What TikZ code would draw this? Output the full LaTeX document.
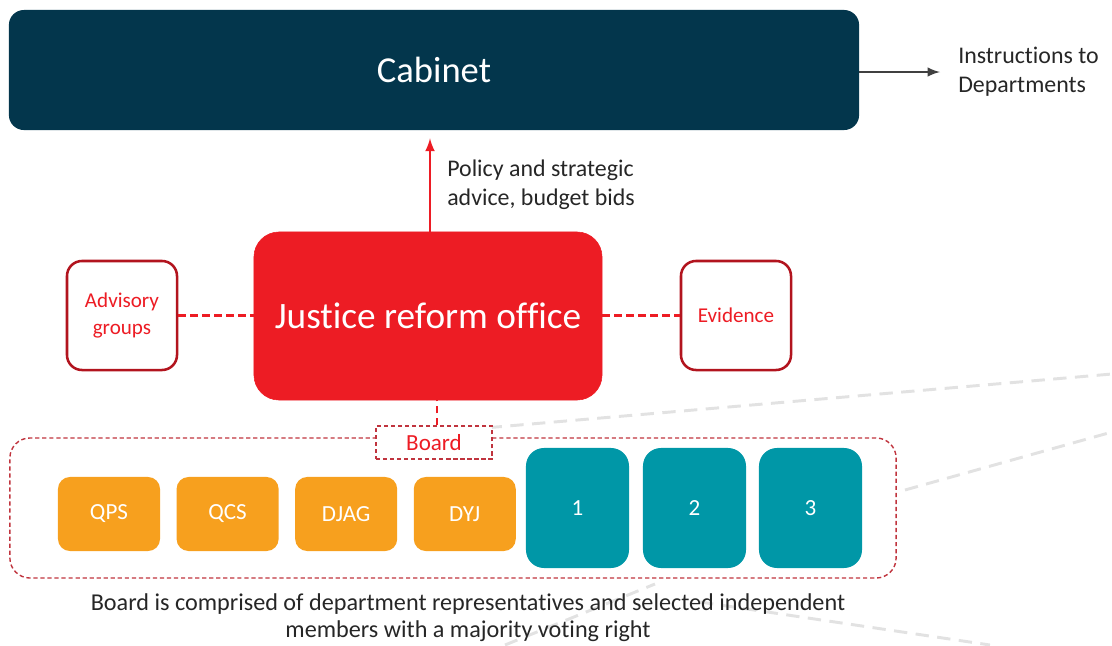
\documentclass[tikz,border=0pt]{standalone}
\usepackage{fontspec}
\setmainfont{Carlito}[Ligatures={NoCommon}]
\usepackage{tikz}
\usetikzlibrary{arrows, positioning, calc}
\definecolor{cabnavy}{RGB}{3, 54, 76}
\definecolor{jrored}{RGB}{237, 28, 36}
\definecolor{edgered}{RGB}{178, 20, 30}
\definecolor{boardred}{RGB}{192, 52, 62}
\definecolor{deptorange}{RGB}{247, 160, 30}
\definecolor{indteal}{RGB}{0, 151, 167}
\definecolor{txtgray}{RGB}{38, 38, 38}
\definecolor{arrgray}{RGB}{64, 64, 64}
\definecolor{bggray}{RGB}{226, 226, 226}

\tikzset{
    advbox/.style={draw=edgered, line width=1.8pt, fill=white, rounded corners=0.375cm,
        minimum width=2.75cm, minimum height=2.725cm, text=jrored, align=center,
        font=\fontsize{15}{19.2}\selectfont},
    deptbox/.style={fill=deptorange, rounded corners=0.3cm, minimum width=2.55cm,
        minimum height=1.85cm, text=white, font=\fontsize{16.4}{19}\selectfont},
    memberbox/.style={fill=indteal, rounded corners=0.45cm, minimum width=2.575cm,
        minimum height=3cm, text=white, font=\fontsize{16.4}{19}\selectfont},
    linkdash/.style={draw=jrored, line width=2pt, dash pattern=on 5.5pt off 3pt},
    bgdash/.style={draw=bggray, line width=2.1pt, dash pattern=on 9.5pt off 6pt}
}

\begin{document}
\begin{tikzpicture}[x=0.025cm, y=-0.025cm]
    \useasboundingbox (0,0) rectangle (1112,645);

    % Faint guide lines (background)
    \draw[bgdash] (380,437) -- (1112,374);
    \draw[bgdash] (905,490) -- (1112,432);
    \draw[bgdash] (505,645) -- (655,584);
    \draw[bgdash] (700,602) -- (990,645);

    % Cabinet
    \node[fill=cabnavy, rounded corners=0.375cm, minimum width=21.25cm, minimum height=3cm,
        text=white, font=\fontsize{26}{31}\selectfont] (cabinet) at (434,70) {Cabinet};
    \node[anchor=west, align=left, inner sep=0pt, text=txtgray,
        font=\fontsize{17}{20.6}\selectfont] (instr) at (958,72) {Instructions to\\Departments};
    \draw[-latex, arrgray, line width=2pt, shorten >=0.45cm] (cabinet.east |- instr.west) -- (instr.west);

    % Justice reform office
    \node[fill=jrored, draw=jrored, rounded corners=0.625cm, minimum width=8.7cm, minimum height=4.2cm,
        text=white, font=\fontsize{26.5}{32}\selectfont] (jro) at (428,316) {Justice reform office};
    \draw[-latex, jrored, line width=2.1pt, shorten >=0.2cm] ([xshift=0.05cm]jro.north) -- ([xshift=0.05cm]jro.north |- cabinet.south);
    \node[anchor=west, align=left, inner sep=0pt, text=txtgray,
        font=\fontsize{17}{20.6}\selectfont] (advice) at (447,185) {Policy and strategic\\advice, budget bids};

    % Side boxes
    \node[advbox] (advisory) at (122,315.5) {Advisory\\groups};
    \node[advbox] (evidence) at (736,315.5) {Evidence};
    \draw[linkdash] (advisory.east) -- (advisory.east -| jro.west);
    \draw[linkdash] (jro.east |- evidence.west) -- (evidence.west);

    % Board
    \node[draw=boardred, line width=1pt, dash pattern=on 3pt off 2pt, rounded corners=0.5cm,
        minimum width=22.15cm, minimum height=3.5cm] (board) at (453,508) {};
    \node[draw=boardred, line width=1pt, dash pattern=on 3pt off 2pt, fill=white,
        minimum width=2.9cm, minimum height=0.825cm, text=jrored,
        font=\fontsize{16.4}{19}\selectfont] (boardlbl) at (434,442.5) {Board};
    \draw[linkdash] ([xshift=0.075cm]boardlbl.north) -- ([xshift=0.075cm]boardlbl.north |- jro.south);

    % Departments
    \node[deptbox] (qps) at (109,514) {QPS};
    \node[deptbox, right=0.4cm of qps] (qcs) {QCS};
    \node[deptbox, right=0.4cm of qcs] (djag) {DJAG};
    \node[deptbox, right=0.4cm of djag] (dyj) {DYJ};

    % Independent members
    \node[memberbox] (mem1) at (577.5,508) {1};
    \node[memberbox] (mem2) at (694.5,508) {2};
    \node[memberbox] (mem3) at (810.5,508) {3};

    % Caption
    \node[align=center, text=txtgray, font=\fontsize{17.2}{19.4}\selectfont] (caption) at (468,617.5)
        {Board is comprised of department representatives and selected independent\\members with a majority voting right};
\end{tikzpicture}
\end{document}
